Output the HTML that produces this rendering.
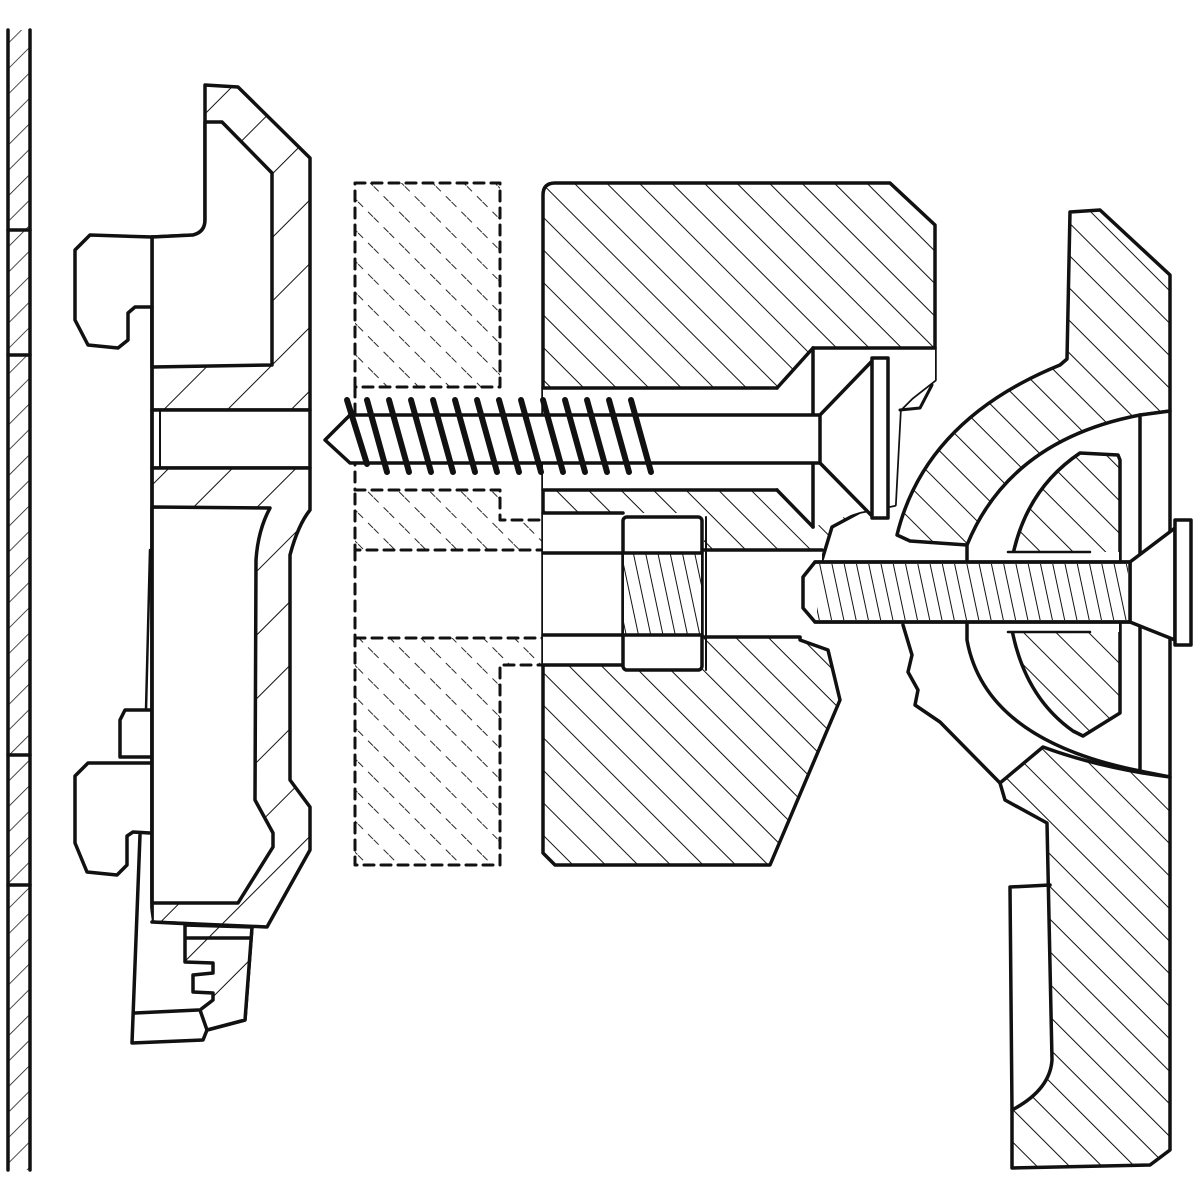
<!DOCTYPE html>
<html><head><meta charset="utf-8"><style>html,body{margin:0;padding:0;background:#fff}svg{display:block}</style></head>
<body>
<svg width="1200" height="1200" viewBox="0 0 1200 1200" xmlns="http://www.w3.org/2000/svg">
<defs>
<pattern id="hb" patternUnits="userSpaceOnUse" width="23" height="23" patternTransform="rotate(-45)">
<rect width="23" height="23" fill="#fff"/><line x1="0" y1="0" x2="0" y2="23" stroke="#111" stroke-width="2"/></pattern>
<pattern id="hf" patternUnits="userSpaceOnUse" width="45" height="45" patternTransform="rotate(45)">
<rect width="45" height="45" fill="#fff"/><line x1="0" y1="0" x2="0" y2="45" stroke="#111" stroke-width="2"/></pattern>
<pattern id="hw" patternUnits="userSpaceOnUse" width="18" height="18" patternTransform="rotate(45)">
<rect width="18" height="18" fill="#fff"/><line x1="0" y1="0" x2="0" y2="18" stroke="#111" stroke-width="1.5"/></pattern>
<pattern id="hd" patternUnits="userSpaceOnUse" width="22" height="22" patternTransform="rotate(-45)">
<rect width="22" height="22" fill="#fff"/><line x1="0" y1="0" x2="0" y2="22" stroke="#111" stroke-width="1.8" stroke-dasharray="7,7"/></pattern>
<pattern id="tb" patternUnits="userSpaceOnUse" width="12" height="12" patternTransform="rotate(-12)">
<rect width="12" height="12" fill="#fff"/><line x1="0" y1="0" x2="0" y2="12" stroke="#111" stroke-width="2"/></pattern>
</defs>
<g stroke="#111" stroke-width="3.5" stroke-linejoin="round" stroke-linecap="round" fill="none">
<!-- wall -->
<rect x="8" y="30" width="22" height="1140" fill="url(#hw)" stroke="none"/>
<line x1="8" y1="30" x2="8" y2="1170"/><line x1="30" y1="30" x2="30" y2="1170"/>
<line x1="8" y1="230" x2="30" y2="230"/><line x1="8" y1="355" x2="30" y2="355"/>
<line x1="8" y1="755" x2="30" y2="755"/><line x1="8" y1="885" x2="30" y2="885"/>

<!-- left bracket: top section -->
<path d="M205,85 L238,87 L310,158 L310,410 L152,410 L152,237 L193,235 Q205,232 205,220 Z" fill="url(#hf)"/>
<path d="M205,122 L222,122 L272,173 L272,365 L152,367 L152,237 L193,235 Q205,232 205,220 Z" fill="#fff"/>
<path d="M152,237 L90,235 L75,250 L75,320 L88,345 L118,348 L128,340 L128,313 L135,307 L152,307" fill="#fff"/>
<rect x="152" y="410" width="158" height="58" fill="#fff"/>
<line x1="160" y1="410" x2="160" y2="468" stroke-width="2"/>
<!-- lower section -->
<path d="M152,468 L310,468 L310,510 Q298,525 290,555 L290,780 L310,807 L310,850 L267,927 L152,922 Z" fill="url(#hf)"/>
<path d="M152,507 L270,508 Q258,530 256,560 L255,800 L273,833 L273,847 L238,903 L152,903 Z" fill="#fff"/>
<line x1="152" y1="237" x2="152" y2="922"/>
<line x1="150" y1="550" x2="146" y2="710" stroke-width="2.5"/>
<path d="M150,710 L125,710 L120,720 L120,757 L150,757" fill="#fff"/>
<path d="M150,763 L88,763 L75,776 L75,843 L87,872 L117,875 L127,865 L127,836 L133,832 L150,833" fill="#fff"/>
<!-- foot -->
<path d="M140,835 L132,1043 L203,1040 L207,1030 L245,1020 L252,927 L152,922" fill="#fff"/>
<path d="M185,925 L252,927 L245,1020 L207,1030 L200,1010 L213,1000 L213,993 L193,992 L193,975 L213,973 L213,963 L185,962 Z" fill="url(#hf)"/>
<line x1="187" y1="938" x2="250" y2="938"/>
<line x1="135" y1="1013" x2="198" y2="1010"/>

<!-- dashed spacer -->
<g stroke-dasharray="10,7" stroke-width="3">
<path d="M355,183 L500,183 L500,387 L355,387 Z" fill="url(#hd)"/>
<path d="M355,490 L500,490 L500,520 L557,520 L557,550 L355,550 Z" fill="url(#hd)"/>
<path d="M355,638 L557,638 L557,665 L500,665 L500,865 L355,865 Z" fill="url(#hd)"/>
<line x1="355" y1="387" x2="355" y2="490"/><line x1="355" y1="550" x2="355" y2="638"/><line x1="557" y1="550" x2="557" y2="638"/>
</g>

<!-- middle block -->
<path d="M543,195 Q543,183 555,183 L890,183 L935,225 L935,380 L912,398 L900,410 L895,505 L860,512 L832,527 L822,560 L800,560 L800,640 L828,650 L840,700 L770,865 L555,865 L543,853 Z" fill="url(#hb)"/>
<path d="M543,388 L777,388 L813,348 L935,348 L935,380 L912,398 L900,410 L895,505 L860,512 L813,527 L777,490 L543,490 Z" fill="#fff" stroke="none"/>
<path d="M543,513 L704,513 L704,550 L822,550 L822,637 L704,637 L704,665 L543,665 Z" fill="#fff" stroke="none"/>
<line x1="543" y1="388" x2="777" y2="388"/><line x1="777" y1="388" x2="813" y2="348"/><line x1="813" y1="348" x2="935" y2="348"/>
<line x1="813" y1="348" x2="813" y2="527"/>
<line x1="543" y1="490" x2="777" y2="490"/><line x1="777" y1="490" x2="813" y2="527"/>
<line x1="543" y1="513" x2="623" y2="513"/><line x1="704" y1="550" x2="822" y2="550"/>
<line x1="704" y1="637" x2="800" y2="637"/><line x1="543" y1="665" x2="623" y2="665"/>
<line x1="543" y1="553" x2="623" y2="553"/><line x1="543" y1="635" x2="623" y2="635"/>
<path d="M900,410 L920,408 L932,385" stroke-width="3"/>
<!-- nut -->
<rect x="623" y="517" width="79" height="153" rx="4" fill="#fff"/>
<rect x="624" y="553" width="77" height="82" fill="url(#tb)" stroke="none"/>
<line x1="623" y1="553" x2="702" y2="553"/><line x1="623" y1="635" x2="702" y2="635"/>
<line x1="706" y1="517" x2="706" y2="670" stroke-width="2"/>

<!-- wood screw -->
<path d="M350,415 L820,415 L873,360 L873,517 L820,463 L350,463 L325,440 Z" fill="#fff"/>
<line x1="820" y1="415" x2="820" y2="463"/>
<rect x="872" y="358" width="16" height="160" fill="#fff"/>
<g stroke-width="6">
<line x1="347" y1="400" x2="367" y2="464"/>
<line x1="367" y1="400" x2="387" y2="472"/><line x1="389" y1="400" x2="409" y2="472"/>
<line x1="411" y1="400" x2="431" y2="472"/><line x1="433" y1="400" x2="453" y2="472"/>
<line x1="455" y1="400" x2="475" y2="472"/><line x1="477" y1="400" x2="497" y2="472"/>
<line x1="499" y1="400" x2="519" y2="472"/><line x1="521" y1="400" x2="541" y2="472"/>
<line x1="543" y1="400" x2="563" y2="472"/><line x1="565" y1="400" x2="585" y2="472"/>
<line x1="587" y1="400" x2="607" y2="472"/><line x1="609" y1="400" x2="629" y2="472"/>
<line x1="631" y1="400" x2="651" y2="472"/>
</g>

<!-- right part -->
<path d="M1067,359 L1070,212 L1100,210 L1170,275 L1170,411 L1140,415 Q1010,440 967,545 L910,541 L897,535 Q925,420 1060,365 Z" fill="url(#hb)"/>
<path d="M1140,415 L1170,411 L1170,777 L1140,771 Z" fill="#fff"/>
<path d="M967,545 L967,640 Q985,740 1140,771" fill="none"/>
<path d="M903,625 L912,655 L908,672 L918,690 L915,705 L940,722 L1000,783" fill="none"/>
<path d="M1080,453 L1118,455 L1120,460 L1120,713 L1083,736 L1073,731 Q1015,690 1008,600 Q1010,500 1080,453 Z" fill="url(#hb)"/>
<path d="M1008,552 L1119,552 L1119,632 L1008,632 Z" fill="#fff" stroke="none"/>
<line x1="1008" y1="552" x2="1090" y2="552" stroke-width="2.5"/><line x1="1008" y1="632" x2="1090" y2="632" stroke-width="2.5"/>
<path d="M1043,747 Q1100,768 1170,777 L1170,1150 L1150,1165 L1012,1168 L1012,1110 Q1050,1090 1052,1060 L1047,823 L1005,800 L1000,783 Z" fill="url(#hb)"/>
<path d="M1012,1110 L1010,887 L1050,885" fill="none"/>

<!-- bolt -->
<path d="M1130,562 L1175,528 L1175,640 L1130,622 Z" fill="#fff"/>
<rect x="1175" y="520" width="16" height="125" fill="#fff"/>
<path d="M803,577 L815,562 L1130,562 L1130,622 L815,622 L803,608 Z" fill="#fff"/>
<rect x="817" y="564" width="311" height="56" fill="url(#tb)" stroke="none"/>
<line x1="815" y1="562" x2="1130" y2="562"/><line x1="815" y1="622" x2="1130" y2="622"/>
</g>
</svg>
</body></html>
